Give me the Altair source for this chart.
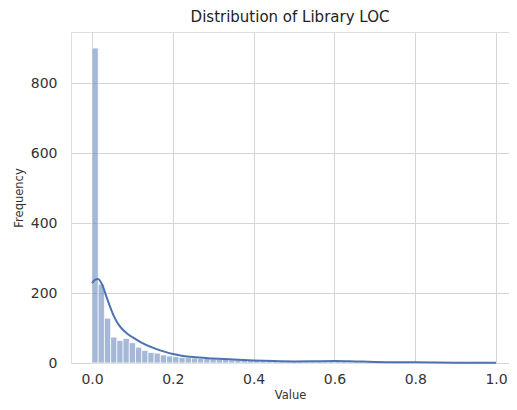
import altair as alt
import pandas as pd

# Histogram: 65 equal bins over [0, 1]
n_bins = 65
counts = [900, 225, 128, 74, 64, 70, 58, 45, 36, 30,
          28, 23, 20, 18, 16, 15, 14, 13, 14, 12,
          11, 10, 9, 9, 8, 7, 7, 6, 6, 5,
          5, 4, 4, 5, 4, 4, 5, 4, 6, 5,
          4, 3, 3, 3, 3, 2, 3, 2, 2, 2,
          2, 1, 1, 2, 1, 1, 1, 1, 1, 0,
          1, 1, 0, 1, 1]
bin_start = [i / n_bins for i in range(n_bins)]
bin_end = [(i + 1) / n_bins for i in range(n_bins)]

# KDE curve (scaled to counts)
kde_x = [0.0, 0.008, 0.015, 0.025, 0.035, 0.045, 0.055, 0.068, 0.085, 0.101,
         0.12, 0.15, 0.183, 0.2, 0.25, 0.3, 0.35, 0.4, 0.45, 0.5,
         0.55, 0.6, 0.65, 0.7, 0.8, 0.9, 1.0]
kde_y = [228, 238, 240, 224, 192, 160, 132, 106, 86, 73,
         60, 44, 31, 26, 17, 13, 10, 7.5, 5.5, 4.5,
         5, 5.5, 4.5, 3, 1.8, 1, 0.5]

hist_df = pd.DataFrame({"start": bin_start, "end": bin_end, "count": counts})
kde_df = pd.DataFrame({"x": kde_x, "y": kde_y})

x_scale = alt.Scale(domain=[-0.052, 1.032], nice=False, zero=False)
y_scale = alt.Scale(domain=[0, 946], nice=False)

x_axis = alt.Axis(title="Value", values=[0, 0.2, 0.4, 0.6, 0.8, 1.0], format=".1f",
                  grid=True, gridColor="#d5d5d5", gridWidth=1, ticks=False, domain=False,
                  labelFontSize=14, labelColor="#333333", labelPadding=9,
                  titleFontSize=11.5, titleFontWeight="normal", titleColor="#333333", titlePadding=3,
                  labelFont="DejaVu Sans", titleFont="DejaVu Sans")
y_axis = alt.Axis(title="Frequency", values=[0, 200, 400, 600, 800],
                  grid=True, gridColor="#d5d5d5", gridWidth=1, ticks=False, domain=False,
                  labelFontSize=14, labelColor="#333333", labelPadding=14,
                  titleFontSize=11.5, titleFontWeight="normal", titleColor="#333333", titlePadding=6,
                  labelFont="DejaVu Sans", titleFont="DejaVu Sans")

bars = alt.Chart(hist_df).mark_rect(
    fill="#4C72B0", fillOpacity=0.5, stroke="white", strokeWidth=0.7
).encode(
    x=alt.X("start:Q", scale=x_scale, axis=x_axis),
    x2="end:Q",
    y=alt.Y("count:Q", scale=y_scale, axis=y_axis),
    y2=alt.datum(0),
)

line = alt.Chart(kde_df).mark_line(
    color="#4C72B0", strokeWidth=2, interpolate="monotone"
).encode(
    x=alt.X("x:Q", scale=x_scale),
    y=alt.Y("y:Q", scale=y_scale),
)

chart = alt.layer(bars, line).properties(
    width=438,
    height=331,
    autosize=alt.AutoSizeParams(type="none"),
    padding={"left": 63, "top": 24, "right": 0, "bottom": 39},
    title=alt.Title("Distribution of Library LOC", fontSize=15, fontWeight="normal",
                    color="#222222", font="DejaVu Sans", offset=7),
).configure_view(
    stroke="#cccccc", strokeWidth=1.2
).configure(background="white")

chart.save("out.html", embed_options={"renderer": "svg", "actions": False})
